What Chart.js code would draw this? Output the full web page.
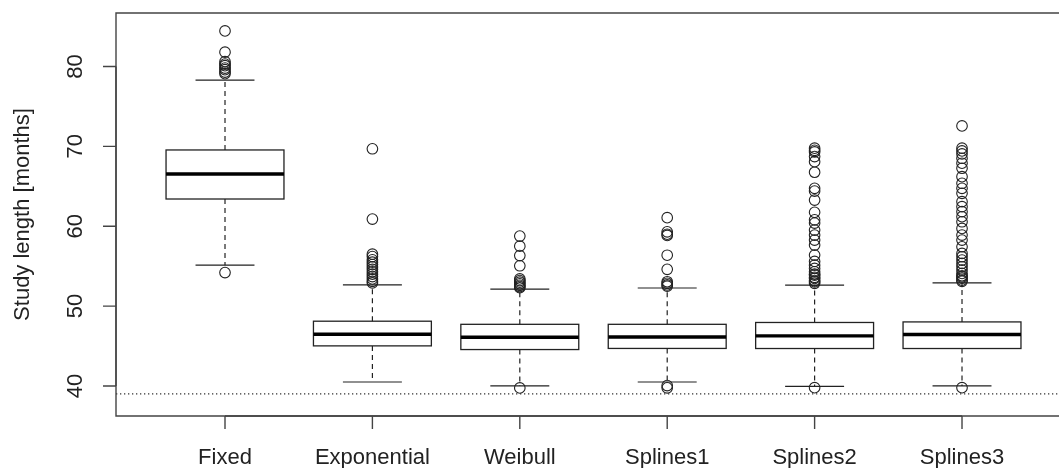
<!DOCTYPE html>
<html>
<head>
<meta charset="utf-8">
<script src="https://cdn.jsdelivr.net/npm/chart.js@4"></script>
<style>
html,body{margin:0;padding:0;background:#fff;overflow:hidden;}
#wrap{width:1059px;height:468px;position:relative;}
</style>
</head>
<body>
<div id="wrap"><canvas id="c" width="1059" height="468"></canvas></div>
<script>
// ---- data ----
const categories = ["Fixed", "Exponential", "Weibull", "Splines1", "Splines2", "Splines3"];
const q1        = [63.41, 45.02, 44.56, 44.70, 44.69, 44.69];
const medians   = [66.54, 46.48, 46.10, 46.14, 46.27, 46.44];
const q3        = [69.55, 48.11, 47.72, 47.72, 47.95, 48.02];
const whiskerLo = [55.13, 40.50, 40.00, 40.50, 39.96, 40.00];
const whiskerHi = [78.30, 52.65, 52.13, 52.27, 52.63, 52.92];
const outFixed = [84.45, 81.8, 80.6, 80.3, 80.1, 79.8, 79.6, 79.3, 79.1, 54.2];
const outExponential = [69.7, 60.9, 56.5, 56.2, 55.8, 55.5, 55.2, 54.9, 54.6, 54.3, 54.0, 53.7, 53.4, 53.1, 52.9];
const outWeibull = [58.77, 57.5, 56.33, 55.05, 53.4, 53.2, 53.0, 52.8, 52.6, 52.45, 52.3, 39.75];
const outSplines1 = [61.07, 59.3, 59.0, 58.85, 56.37, 54.6, 53.05, 52.85, 52.65, 52.5, 40.05, 39.77];
const outSplines2 = [69.77, 69.5, 69.3, 68.72, 68.09, 66.76, 64.75, 64.4, 63.28, 61.74, 60.8, 60.4, 59.52, 58.89, 58.27, 57.64, 56.39, 55.6, 55.13, 54.72, 54.3, 54.0, 53.88, 53.6, 53.46, 53.2, 53.04, 52.85, 39.79];
const outSplines3 = [72.56, 69.77, 69.43, 69.05, 68.51, 67.89, 67.26, 66.21, 65.38, 64.75, 64.12, 63.07, 62.45, 61.82, 61.19, 60.56, 59.73, 58.89, 58.27, 57.43, 56.6, 56.18, 55.76, 55.35, 54.93, 54.51, 54.09, 53.8, 53.67, 53.5, 53.25, 53.1, 39.79];
const outliers = [outFixed, outExponential, outWeibull, outSplines1, outSplines2, outSplines3];
const yTicks = [40, 50, 60, 70, 80];
const refLine = 39;
const yTitle = "Study length [months]";

// ---- layout / style ----
const X_MIN = 0.2605, X_MAX = 6.658, Y_MIN = 36.24, Y_MAX = 86.70;
const FONT = '22px "Liberation Sans", Arial, sans-serif';
const INK = '#222';

const datasets = outliers.map((arr, i) => ({
  type: 'scatter',
  data: arr.map(v => ({x: i + 1, y: v})),
  pointRadius: 5.3,
  pointBorderWidth: 1.1,
  pointBorderColor: INK,
  pointBackgroundColor: 'rgba(0,0,0,0)',
  pointStyle: 'circle'
}));
datasets.push({
  type: 'line',
  data: [{x: X_MIN, y: refLine}, {x: X_MAX, y: refLine}],
  borderColor: '#333',
  borderWidth: 1.2,
  borderDash: [1.3, 2.7],
  pointRadius: 0,
  fill: false
});

const rPlot = {
  id: 'rPlot',
  beforeDatasetsDraw(chart) {
    const {ctx, scales: {x, y}} = chart;
    ctx.save();
    categories.forEach((c, i) => {
      const cx = x.getPixelForValue(i + 1);
      const bl = x.getPixelForValue(i + 1 - 0.4), br = x.getPixelForValue(i + 1 + 0.4);
      const sl = x.getPixelForValue(i + 1 - 0.2), sr = x.getPixelForValue(i + 1 + 0.2);
      const yq1 = y.getPixelForValue(q1[i]), yq3 = y.getPixelForValue(q3[i]);
      const ym = y.getPixelForValue(medians[i]);
      const ylo = y.getPixelForValue(whiskerLo[i]), yhi = y.getPixelForValue(whiskerHi[i]);
      ctx.strokeStyle = INK;
      ctx.lineWidth = 1.2;
      ctx.setLineDash([5, 4]);
      ctx.beginPath();
      ctx.moveTo(cx, yq3); ctx.lineTo(cx, yhi);
      ctx.moveTo(cx, yq1); ctx.lineTo(cx, ylo);
      ctx.stroke();
      ctx.setLineDash([]);
      ctx.beginPath();
      ctx.moveTo(sl, yhi); ctx.lineTo(sr, yhi);
      ctx.moveTo(sl, ylo); ctx.lineTo(sr, ylo);
      ctx.stroke();
      ctx.lineWidth = 1.3;
      ctx.strokeRect(bl, yq3, br - bl, yq1 - yq3);
      ctx.lineWidth = 3.4;
      ctx.strokeStyle = '#000';
      ctx.beginPath();
      ctx.moveTo(bl, ym); ctx.lineTo(br, ym);
      ctx.stroke();
    });
    ctx.restore();
  },
  afterDraw(chart) {
    const {ctx, chartArea: a, scales: {x, y}} = chart;
    ctx.save();
    ctx.strokeStyle = '#444';
    ctx.lineWidth = 1.4;
    ctx.beginPath();
    ctx.moveTo(a.right + 20, a.top); ctx.lineTo(a.left, a.top);
    ctx.lineTo(a.left, a.bottom); ctx.lineTo(a.right + 20, a.bottom);
    ctx.stroke();
    const TL = 13;
    ctx.beginPath();
    ctx.moveTo(a.left, y.getPixelForValue(yTicks[0]));
    ctx.lineTo(a.left, y.getPixelForValue(yTicks[yTicks.length - 1]));
    yTicks.forEach(t => {
      const py = y.getPixelForValue(t);
      ctx.moveTo(a.left, py); ctx.lineTo(a.left - TL, py);
    });
    ctx.moveTo(x.getPixelForValue(1), a.bottom);
    ctx.lineTo(x.getPixelForValue(categories.length), a.bottom);
    categories.forEach((c, i) => {
      const px = x.getPixelForValue(i + 1);
      ctx.moveTo(px, a.bottom); ctx.lineTo(px, a.bottom + TL);
    });
    ctx.stroke();
    ctx.fillStyle = INK;
    ctx.font = FONT;
    ctx.textAlign = 'center';
    ctx.textBaseline = 'alphabetic';
    categories.forEach((c, i) => {
      ctx.fillText(c, x.getPixelForValue(i + 1), 464);
    });
    yTicks.forEach(t => {
      ctx.save();
      ctx.translate(82, y.getPixelForValue(t));
      ctx.rotate(-Math.PI / 2);
      ctx.fillText(String(t), 0, 0);
      ctx.restore();
    });
    ctx.save();
    ctx.translate(29, (a.top + a.bottom) / 2);
    ctx.rotate(-Math.PI / 2);
    ctx.fillText(yTitle, 0, 0);
    ctx.restore();
    ctx.restore();
  }
};

new Chart(document.getElementById('c'), {
  type: 'scatter',
  data: {datasets},
  options: {
    responsive: false,
    animation: false,
    events: [],
    layout: {autoPadding: false, padding: {left: 116, top: 13, right: 0, bottom: 52}},
    plugins: {legend: {display: false}, tooltip: {enabled: false}},
    scales: {
      x: {type: 'linear', min: X_MIN, max: X_MAX, display: false},
      y: {type: 'linear', min: Y_MIN, max: Y_MAX, display: false}
    }
  },
  plugins: [rPlot]
});
</script>
</body>
</html>
